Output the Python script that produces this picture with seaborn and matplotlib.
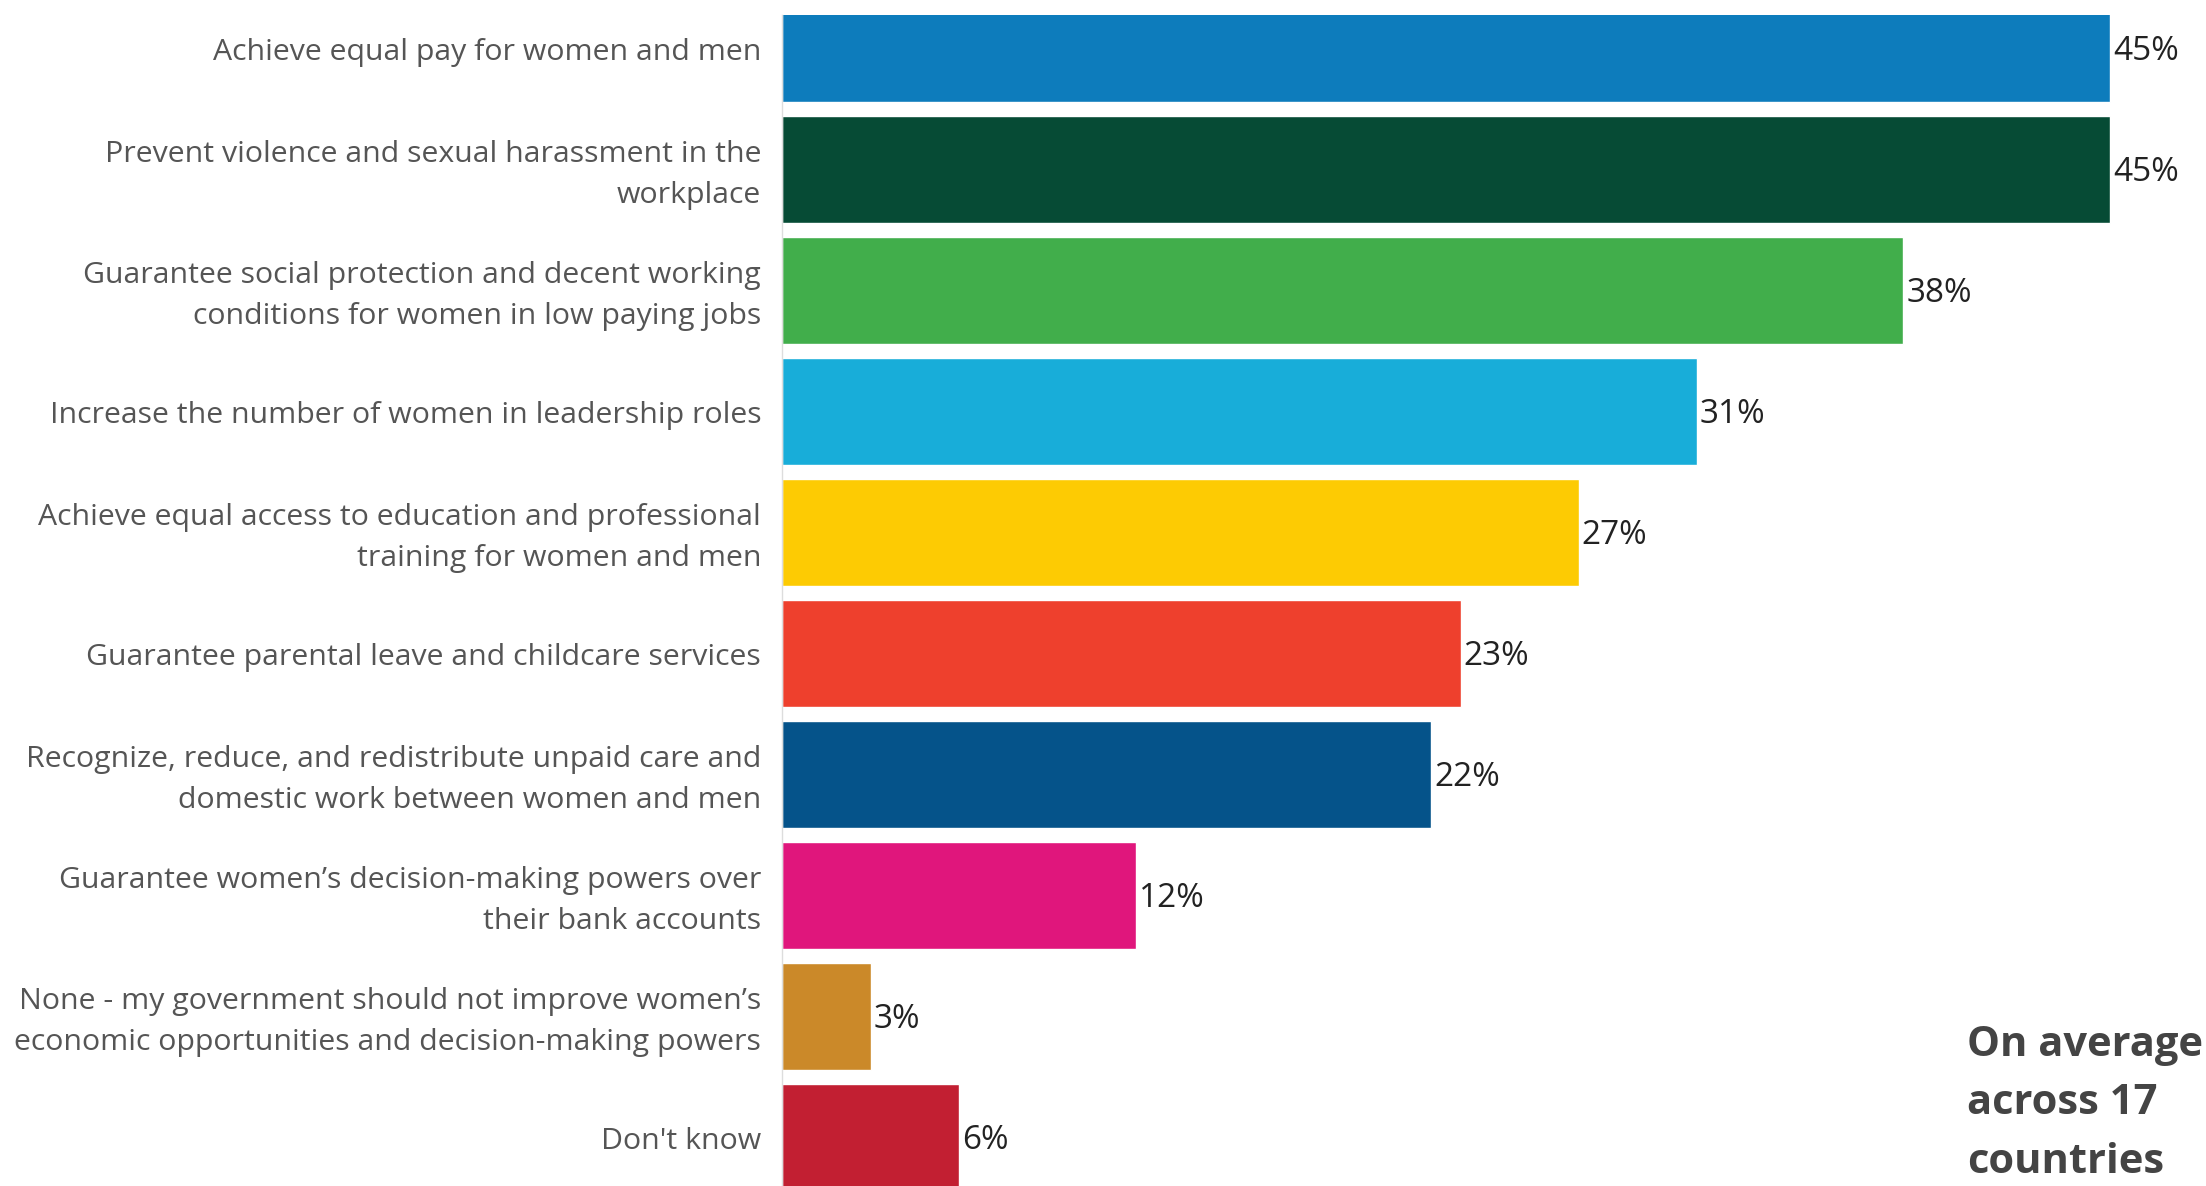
import matplotlib
matplotlib.use("Agg")
import matplotlib.pyplot as plt
import matplotlib.transforms as mtransforms
import seaborn as sns
import pandas as pd

categories = [
    "Achieve equal pay for women and men",
    "Prevent violence and sexual harassment in the\nworkplace",
    "Guarantee social protection and decent working\nconditions for women in low paying jobs",
    "Increase the number of women in leadership roles",
    "Achieve equal access to education and professional\ntraining for women and men",
    "Guarantee parental leave and childcare services",
    "Recognize, reduce, and redistribute unpaid care and\ndomestic work between women and men",
    "Guarantee women\u2019s decision-making powers over\ntheir bank accounts",
    "None - my government should not improve women\u2019s\neconomic opportunities and decision-making powers",
    "Don't know",
]
values = [45, 45, 38, 31, 27, 23, 22, 12, 3, 6]
colors = ["#0D7CBC", "#064B35", "#41AE4B", "#18ADD9", "#FDCB03",
          "#EE402D", "#05538A", "#E0167C", "#CB8929", "#C21F32"]

df = pd.DataFrame({"option": categories, "share": values})

sns.set_style("white")
plt.rcParams["font.family"] = ["Open Sans", "DejaVu Sans"]

fig = plt.figure(figsize=(22.06, 11.86), dpi=100)
ax = fig.add_axes([782 / 2206, 0, 1 - 782 / 2206, 1 - 15 / 1186])

sns.barplot(data=df, x="share", y="option", hue="option", palette=colors,
            legend=False, width=0.89, orient="h", saturation=1, ax=ax)

ax.set_xlim(0, 48.25)
ax.set_ylim(9.40, -0.277)
ax.set_xlabel("")
ax.set_ylabel("")
ax.set_xticks([])
ax.tick_params(axis="y", length=0, pad=15, labelsize=21.8, labelcolor="#555555")

# two-line labels sit a touch high in the original
nudge = mtransforms.ScaledTranslation(0, 4 / 100, fig.dpi_scale_trans)
for t in ax.get_yticklabels():
    t.set_linespacing(1.55)
    if "\n" in t.get_text():
        t.set_transform(t.get_transform() + nudge)

for s in ["top", "right", "bottom"]:
    ax.spines[s].set_visible(False)
ax.spines["left"].set_color("#dddddd")
ax.spines["left"].set_linewidth(1)

for i, v in enumerate(values):
    ax.annotate(f"{v}%", xy=(v, i), xytext=(2, -2), textcoords="offset points",
                va="center", ha="left", fontsize=24, color="#222222")

fig.text(1967 / 2206, 1 - 1104 / 1186, "On average\nacross 17\ncountries", ha="left", va="center",
         fontsize=30, fontweight="bold", color="#444444", linespacing=1.58)

fig.savefig("out.png", dpi=100)
